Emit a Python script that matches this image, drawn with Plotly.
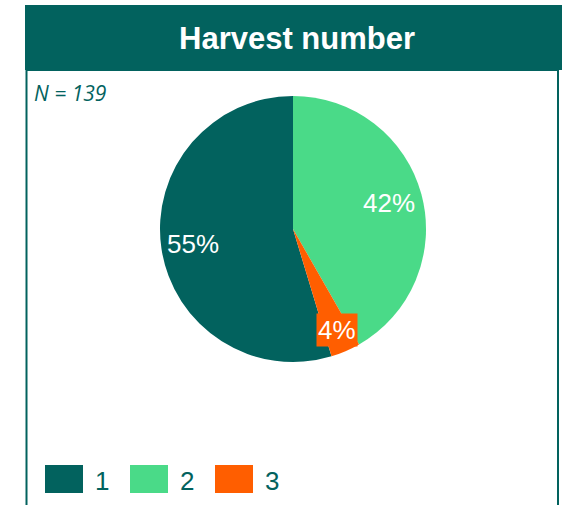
import math
import plotly.graph_objects as go

# ---- data ----
categories = ["1", "2", "3"]
counts = [76, 58, 5]
pct_labels = ["55%", "42%", "4%"]
colors = ["#02625E", "#4ADA88", "#FF5E00"]
title_text = "Harvest number"
n_text = "N = 139"

W, H = 562, 505
TEAL = "#02625E"

def px(x):
    return x / W

def py(y):
    return 1 - y / H

# pie geometry (pixels)
cx, cy, R = 293, 229, 133
total = sum(counts)
rotation = 360 - counts[0] / total * 360  # first slice ends at 12 o'clock

fig = go.Figure()
fig.add_trace(go.Pie(
    labels=categories,
    values=counts,
    marker=dict(colors=colors, line=dict(width=0)),
    sort=False,
    direction="clockwise",
    rotation=rotation,
    textinfo="none",
    hoverinfo="label+percent",
    showlegend=False,
    domain=dict(x=[px(cx - R), px(cx + R)], y=[py(cy + R), py(cy - R)]),
))

shapes = []
annotations = []

# frame box
shapes.append(dict(type="rect", xref="paper", yref="paper",
                   x0=px(26.5), x1=px(558), y0=py(515), y1=py(70),
                   line=dict(color=TEAL, width=2), fillcolor="white", layer="below"))
# header bar
shapes.append(dict(type="rect", xref="paper", yref="paper",
                   x0=px(25), x1=px(565), y0=py(70), y1=py(5),
                   line=dict(width=0), fillcolor=TEAL, layer="below"))

annotations.append(dict(text="<b>" + title_text + "</b>", xref="paper", yref="paper",
                        x=px(297), y=py(39), xanchor="center", yanchor="middle",
                        showarrow=False,
                        font=dict(family="Liberation Sans, Arial", size=31, color="white")))
annotations.append(dict(text=n_text, xref="paper", yref="paper",
                        x=px(32), y=py(93), xanchor="left", yanchor="middle",
                        showarrow=False,
                        font=dict(family="Open Sans", size=21, color=TEAL, style="italic")))

# slice labels derived from values
start = rotation
label_r = [0.76, 0.75, 0.83]
for i, v in enumerate(counts):
    span = v / total * 360
    mid = math.radians((start + span / 2) % 360)
    start += span
    lx = cx + label_r[i] * R * math.sin(mid)
    ly = cy - label_r[i] * R * math.cos(mid)
    small = v / total < 0.1
    annotations.append(dict(
        text=pct_labels[i], xref="paper", yref="paper",
        x=px(lx), y=py(ly), xanchor="center", yanchor="middle", showarrow=False,
        font=dict(family="Liberation Sans, Arial", size=26, color="white"),
        bgcolor=colors[i] if small else None, borderpad=1 if small else 0,
    ))

# legend
lx0 = 45
for i, (cat, col) in enumerate(zip(categories, colors)):
    x0 = lx0 + i * 85
    shapes.append(dict(type="rect", xref="paper", yref="paper",
                       x0=px(x0), x1=px(x0 + 38), y0=py(493), y1=py(465),
                       line=dict(width=0), fillcolor=col))
    annotations.append(dict(text=cat, xref="paper", yref="paper",
                            x=px(x0 + 48), y=py(481), xanchor="left", yanchor="middle",
                            showarrow=False,
                            font=dict(family="Liberation Sans, Arial", size=26, color=TEAL)))

fig.update_layout(
    width=W, height=H,
    margin=dict(l=0, r=0, t=0, b=0),
    paper_bgcolor="white",
    plot_bgcolor="white",
    shapes=shapes,
    annotations=annotations,
)

fig.write_html("out.html")
